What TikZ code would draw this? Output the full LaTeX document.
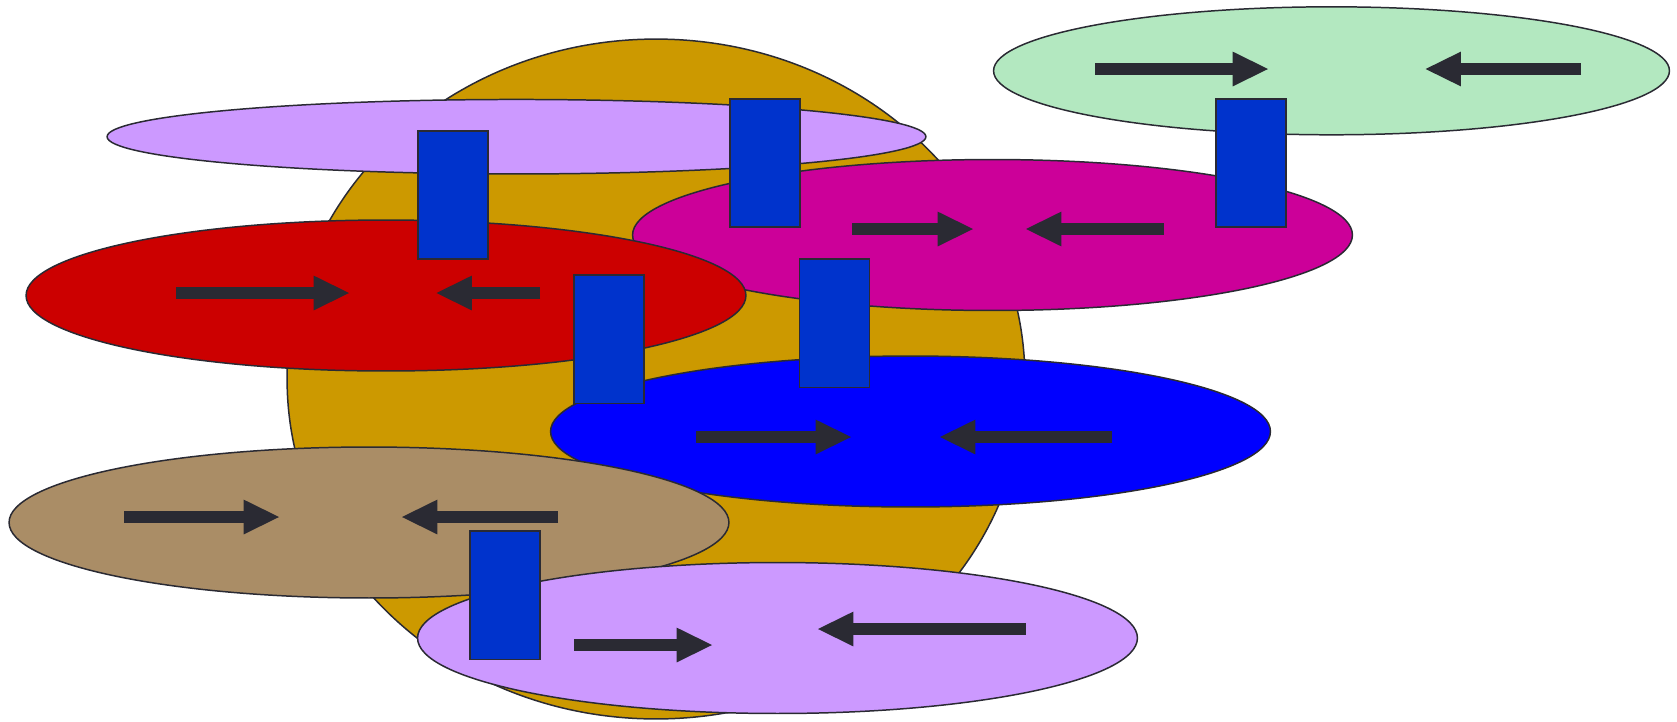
\documentclass[tikz,border=0pt]{standalone}
\usepackage{tikz}
\usetikzlibrary{shapes.geometric,arrows.meta}
\definecolor{edge}{HTML}{2A2A33}
\definecolor{gold}{HTML}{CC9900}
\definecolor{lilac}{HTML}{CC99FF}
\definecolor{mint}{HTML}{B3E8C0}
\definecolor{plum}{HTML}{CC0099}
\definecolor{crimson}{HTML}{CC0000}
\definecolor{pureblue}{HTML}{0000FF}
\definecolor{tan}{HTML}{AA8D66}
\definecolor{padblue}{HTML}{0033CC}
\tikzset{>=stealth}
\tikzset{blob/.style={ellipse, draw=edge, line width=0.85pt, inner sep=0pt, minimum width=14.4cm, minimum height=3.02cm}}
\tikzset{pad/.style={rectangle, draw=edge, fill=padblue, line width=0.85pt, inner sep=0pt, minimum width=1.4cm, minimum height=2.57cm}}
\tikzset{push/.style={draw=edge, line width=6.8pt, -{Triangle[length=20.1pt,width=19.8pt,line width=0pt]}}}

\begin{document}
\begin{tikzpicture}[x=0.02cm, y=-0.02cm]
    \useasboundingbox (0,0) rectangle (1677,721);
    % ellipses, back to front
    \node[blob, fill=gold, minimum width=14.76cm, minimum height=13.6cm] (core) at (656,379) {};
    \node[blob, fill=lilac, minimum width=16.38cm, minimum height=1.49cm] (band) at (516.5,136.7) {};
    \node[blob, fill=mint, minimum width=13.52cm, minimum height=2.56cm] (mint) at (1331.5,70.8) {};
    \node[blob, fill=plum] (plum) at (992.5,235) {};
    \node[blob, fill=crimson] (red) at (386,295.5) {};
    \node[blob, fill=pureblue] (blue) at (910.5,431.5) {};
    \node[blob, fill=tan] (tan) at (369,522.5) {};
    \node[blob, fill=lilac] (low) at (777.5,638) {};
    % rectangles
    \node[pad] (p1) at (453,195) {};
    \node[pad] (p2) at (765,163) {};
    \node[pad] (p3) at (609,339) {};
    \node[pad] (p4) at (834.5,323) {};
    \node[pad] (p5) at (1251,163) {};
    \node[pad] (p6) at (505,595) {};
    % arrows
    \draw[push] (176,293) -- (349,293);
    \draw[push] (540,293) -- (436.5,293);
    \draw[push] (1095,69) -- (1268,69);
    \draw[push] (1581,69) -- (1425.6,69);
    \draw[push] (852,229) -- (973,229);
    \draw[push] (1164,229) -- (1026,229);
    \draw[push] (696,437) -- (851,437);
    \draw[push] (1112,437) -- (940,437);
    \draw[push] (124,517) -- (279,517);
    \draw[push] (558,517) -- (402,517);
    \draw[push] (574,645) -- (712,645);
    \draw[push] (1025.5,629) -- (818,629);
\end{tikzpicture}
\end{document}
